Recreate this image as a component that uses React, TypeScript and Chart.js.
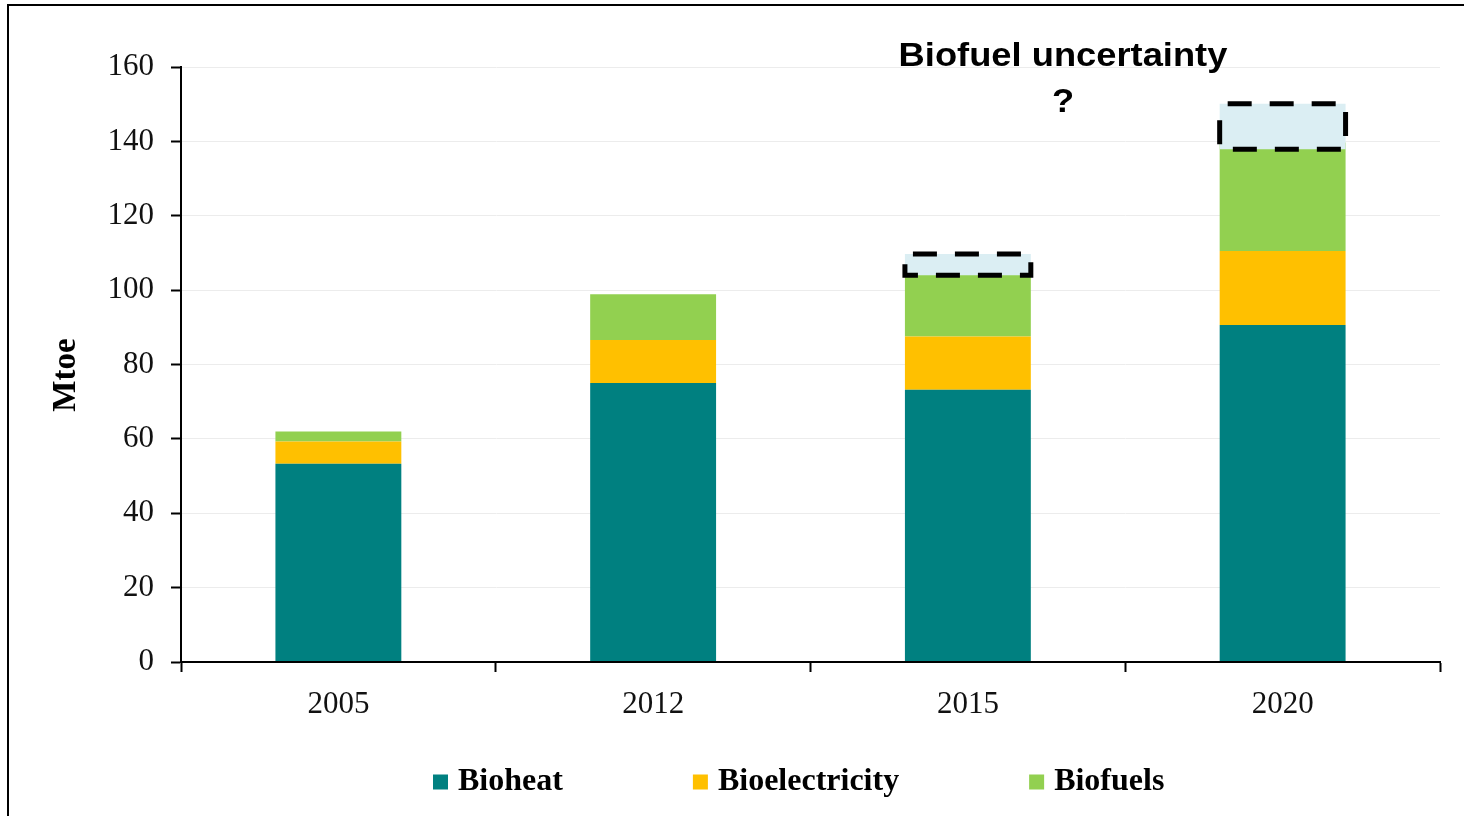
import React, { useEffect, useRef } from "react";
import { Chart, registerables } from "chart.js";

Chart.register(...registerables);

// ---- data ----
const categories = ["2005", "2012", "2015", "2020"];
const seriesNames = ["Bioheat", "Bioelectricity", "Biofuels"];
const bioheat = [53.3, 75.0, 73.2, 90.6];
const bioelectricity = [6.0, 11.6, 14.3, 19.9];
const biofuels = [2.7, 12.3, 16.6, 29.2];
const uncertaintyLow: (number | null)[] = [null, null, 104.0, 137.9];
const uncertaintyHigh: (number | null)[] = [null, null, 109.7, 150.1];
const yMin = 0;
const yMax = 160;
const yStep = 20;
const axisTitle = "Mtoe";
const annotationTitle = "Biofuel uncertainty";
const annotationMark = "?";

const colors = ["#008080", "#FFC000", "#92D050"];
const uncertaintyFill = "#DBEEF3";

const serif = '"Liberation Serif", "Times New Roman", serif';
const sans = '"Liberation Sans", Arial, sans-serif';

const dashedBoxPlugin = {
  id: "dashedBoxes",
  afterDatasetsDraw(chart: any) {
    const meta = chart.getDatasetMeta(3);
    const ctx = chart.ctx;
    ctx.save();
    ctx.setLineDash([24, 18]);
    ctx.lineDashOffset = -8;
    ctx.lineWidth = 5;
    ctx.strokeStyle = "#000";
    meta.data.forEach((el: any, i: number) => {
      if (uncertaintyLow[i] == null) return;
      const p = el.getProps(["x", "y", "base", "width"], true);
      const top = Math.min(p.y, p.base);
      const h = Math.abs(p.base - p.y);
      ctx.strokeRect(p.x - p.width / 2, top, p.width, h);
    });
    ctx.restore();
  },
};

const textPlugin = {
  id: "annotationText",
  afterDraw(chart: any) {
    const ctx = chart.ctx;
    const drawScaled = (text: string, x: number, y: number) => {
      ctx.save();
      ctx.fillStyle = "#000";
      ctx.font = `bold 33px ${sans}`;
      ctx.textAlign = "center";
      ctx.textBaseline = "alphabetic";
      ctx.translate(x, y);
      ctx.scale(1.1, 1);
      ctx.fillText(text, 0, 0);
      ctx.restore();
    };
    drawScaled(annotationTitle, 1063, 66);
    drawScaled(annotationMark, 1063, 112);

    // y axis title
    ctx.save();
    ctx.fillStyle = "#000";
    ctx.font = `bold 33px ${serif}`;
    ctx.textAlign = "center";
    ctx.textBaseline = "middle";
    ctx.translate(66, 375);
    ctx.rotate(-Math.PI / 2);
    ctx.fillText(axisTitle, 0, 0);
    ctx.restore();
  },
};

const legendPlugin = {
  id: "customLegend",
  afterDraw(chart: any) {
    const ctx = chart.ctx;
    ctx.save();
    ctx.font = `bold 32px ${serif}`;
    ctx.textBaseline = "middle";
    ctx.textAlign = "left";
    let x = 433;
    const yc = 782;
    const box = 15;
    const gap = 130;
    chart.data.datasets.slice(0, 3).forEach((ds: any) => {
      ctx.fillStyle = ds.backgroundColor;
      ctx.fillRect(x, yc - box / 2, box, box);
      ctx.fillStyle = "#000";
      const tx = x + 25;
      ctx.fillText(ds.label, tx, yc);
      x = tx + ctx.measureText(ds.label).width + gap;
    });
    ctx.restore();
  },
};

export default function App() {
  const ref = useRef<HTMLCanvasElement>(null);

  useEffect(() => {
    if (!ref.current) return;
    const floating = categories.map((_, i) =>
      uncertaintyLow[i] == null ? null : [uncertaintyLow[i], uncertaintyHigh[i]]
    );
    const common = { barPercentage: 0.4, categoryPercentage: 1 };
    const chart = new Chart(ref.current, {
      type: "bar",
      data: {
        labels: categories,
        datasets: [
          { label: seriesNames[0], data: bioheat, backgroundColor: colors[0], stack: "main", order: 1, ...common },
          { label: seriesNames[1], data: bioelectricity, backgroundColor: colors[1], stack: "main", order: 1, ...common },
          { label: seriesNames[2], data: biofuels, backgroundColor: colors[2], stack: "main", order: 1, ...common },
          {
            label: "Biofuel uncertainty",
            data: floating as any,
            backgroundColor: uncertaintyFill,
            stack: "uncertainty",
            grouped: false,
            order: 0,
            ...common,
          } as any,
        ],
      },
      options: {
        responsive: false,
        animation: false,
        devicePixelRatio: 1,
        layout: { padding: { left: 0, top: 67, right: 24, bottom: 94 } },
        plugins: {
          legend: { display: false },
          tooltip: { enabled: false },
          title: { display: false },
        },
        scales: {
          x: {
            ticks: { font: { family: serif, size: 31 }, color: "#111", padding: 14 },
            grid: {
              display: true,
              drawOnChartArea: false,
              tickColor: "#000",
              tickLength: 10,
              tickWidth: 2,
              offset: true,
            },
            border: { color: "#000", width: 2, z: 1 },
            afterFit(scale: any) {
              scale.height = 60;
            },
          },
          y: {
            stacked: true,
            min: yMin,
            max: yMax,
            ticks: { stepSize: yStep, font: { family: serif, size: 31 }, color: "#111", padding: 17 },
            grid: { color: "#ececec", lineWidth: 1, tickColor: "#000", tickLength: 10, tickWidth: 2 },
            border: { color: "#000", width: 2 },
            title: { display: false },
            afterFit(scale: any) {
              scale.width = 181;
            },
          },
        },
      } as any,
      plugins: [dashedBoxPlugin, textPlugin, legendPlugin],
    });
    return () => chart.destroy();
  }, []);

  return (
    <div style={{ position: "absolute", left: 0, top: 0, width: 1464, height: 816, background: "#fff", overflow: "hidden" }}>
      <div
        style={{
          position: "absolute",
          left: 7,
          top: 4,
          width: 1464,
          height: 820,
          borderLeft: "2px solid #000",
          borderTop: "2px solid #000",
        }}
      />
      <canvas ref={ref} width={1464} height={816} style={{ position: "absolute", left: 0, top: 0, display: "block" }} />
    </div>
  );
}
